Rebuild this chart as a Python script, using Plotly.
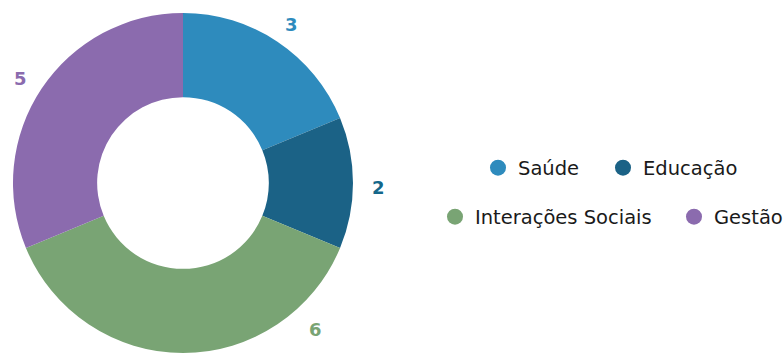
import numpy as np
import plotly.graph_objects as go

categories = ["Saúde", "Educação", "Interações Sociais", "Gestão"]
values = [3, 2, 6, 5]
slice_colors = ["#2e8bbd", "#1b6286", "#79a474", "#8b6bae"]
label_colors = ["#2e8bbd", "#14678a", "#79a474", "#8b6bae"]
# extra rotation (degrees) applied to a value label so it stays inside the canvas
label_nudge_deg = [0, 0, -43, 0]

FONT = "DejaVu Sans"
W, H = 783, 354

# pie geometry in pixels
CX, CY, R = 183, 183, 170
LABEL_R = 195
LABEL_DY = 4  # digits sit slightly below the annotation's line-box centre

fig = go.Figure()

fig.add_trace(go.Pie(
    labels=categories,
    values=values,
    hole=0.505,
    sort=False,
    direction="clockwise",
    rotation=0,
    marker=dict(colors=slice_colors, line=dict(width=0)),
    textinfo="none",
    domain=dict(x=[(CX - R) / W, (CX + R) / W], y=[1 - (CY + R) / H, 1 - (CY - R) / H]),
    showlegend=False,
    hoverinfo="label+value",
))

# value labels just outside each slice, at the slice's middle angle
vals = np.array(values, dtype=float)
mid = (np.cumsum(vals) - vals / 2) / vals.sum() * 360.0 + np.array(label_nudge_deg)
for v, ang, col in zip(values, mid, label_colors):
    a = np.deg2rad(ang)
    px = CX + LABEL_R * np.sin(a)
    py = CY - LABEL_R * np.cos(a) + LABEL_DY
    fig.add_annotation(
        x=px / W, y=1 - py / H, xref="paper", yref="paper",
        text=f"<b>{v}</b>", showarrow=False,
        font=dict(family=FONT, size=18, color=col),
        xanchor="center", yanchor="middle",
    )

# Legend: one single-entry legend per category, laid out in two rows
legend_ids = ["legend", "legend2", "legend3", "legend4"]
legend_pos = [(478, 168), (603, 168), (435, 217), (674, 217)]
for name, color, lg in zip(categories, slice_colors, legend_ids):
    fig.add_trace(go.Scatter(
        x=[None], y=[None], mode="markers", name=name,
        marker=dict(symbol="circle", size=19, color=color),
        legend=lg, showlegend=True,
    ))

legend_style = dict(
    orientation="h", xanchor="left", yanchor="middle",
    font=dict(family=FONT, size=19.5, color="#1a1a1a"),
    bgcolor="rgba(0,0,0,0)", itemclick=False, itemdoubleclick=False,
)
legend_layout = {
    lg: dict(x=lx / W, y=1 - ly / H, **legend_style)
    for lg, (lx, ly) in zip(legend_ids, legend_pos)
}

fig.update_layout(
    width=W, height=H,
    margin=dict(l=0, r=0, t=0, b=0, autoexpand=False),
    paper_bgcolor="white", plot_bgcolor="white",
    xaxis=dict(visible=False), yaxis=dict(visible=False),
    **legend_layout,
)

fig.write_html("out.html")
